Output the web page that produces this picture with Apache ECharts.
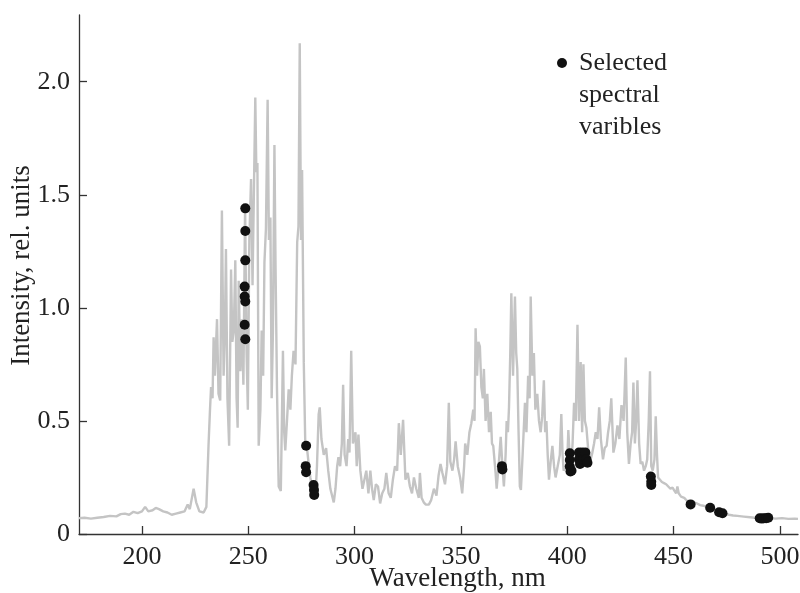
<!DOCTYPE html>
<html>
<head>
<meta charset="utf-8">
<script src="https://cdn.jsdelivr.net/npm/echarts@6/dist/echarts.min.js"></script>
<style>
  html, body { margin: 0; padding: 0; background: #fff; }
  #chart { width: 800px; height: 593px; }
</style>
</head>
<body>
<div id="chart"></div>
<script>
// spectrum, [wavelength nm, intensity]
const spectrum = [
  [170.4, 0.07], [173, 0.072], [176, 0.068], [179, 0.072], [182, 0.075], [185, 0.08], [188, 0.078],
  [190, 0.088], [192, 0.09], [194, 0.085], [196, 0.098], [198, 0.092], [200, 0.1], [201.5, 0.12],
  [203, 0.1], [205, 0.105], [206.5, 0.115], [208, 0.11], [210, 0.1], [212, 0.095], [214, 0.085],
  [216, 0.09], [218, 0.095], [220, 0.1], [221.5, 0.13], [222.5, 0.11], [224.3, 0.2], [225.5, 0.14],
  [227, 0.1], [229, 0.095], [230.3, 0.12], [231.3, 0.39], [232, 0.55], [232.5, 0.65], [233.2, 0.6],
  [233.7, 0.87], [234.3, 0.7], [235.3, 0.95], [236, 0.62], [236.8, 0.59], [237.6, 1.43], [238.4, 0.7],
  [239, 0.9], [239.5, 1.26], [240.2, 0.6], [241, 0.39], [241.9, 1.17], [242.5, 0.85], [243.2, 0.9],
  [243.9, 1.21], [244.5, 0.6], [245, 0.47], [245.5, 1.12], [246.3, 0.72], [247, 0.95], [247.7, 0.66],
  [248.5, 1.45], [249.2, 0.8], [249.8, 0.55], [250.5, 1.3], [251.3, 1.57], [252, 1.1], [252.7, 1.55],
  [253.3, 1.93], [253.8, 1.6], [254.3, 1.64], [254.9, 0.39], [255.7, 0.55], [256.3, 0.9], [257, 0.7],
  [257.6, 1.2], [258.3, 1.35], [259.1, 1.92], [259.7, 1.3], [260.4, 1.4], [261, 0.6], [261.6, 0.9],
  [262.3, 1.72], [262.8, 1.2], [263.5, 0.64], [264.3, 0.21], [265.3, 0.19], [266.3, 0.81], [266.9, 0.45],
  [267.4, 0.37], [268.2, 0.5], [269, 0.64], [269.8, 0.55], [270.5, 0.7], [271.3, 0.81], [272.2, 0.75],
  [273, 1.29], [273.6, 1.36], [274.2, 2.17], [274.8, 1.3], [275.3, 1.61], [276.1, 0.76], [276.8, 0.4],
  [277.5, 0.39], [278.4, 0.31], [279.2, 0.25], [280, 0.2], [280.8, 0.18], [281.6, 0.17], [282.3, 0.3],
  [283.1, 0.53], [283.6, 0.56], [284.4, 0.42], [285.5, 0.35], [286.6, 0.38], [287.6, 0.28], [288.6, 0.2],
  [290.2, 0.14], [291, 0.2], [291.8, 0.3], [292.4, 0.34], [293.2, 0.3], [294, 0.4], [294.6, 0.66],
  [295.3, 0.35], [296.2, 0.3], [297, 0.42], [297.6, 0.36], [298.4, 0.81], [299.2, 0.4], [300.4, 0.45],
  [301, 0.3], [301.8, 0.44], [302.7, 0.28], [303.7, 0.2], [304.6, 0.24], [305.5, 0.28], [306.5, 0.18],
  [307.4, 0.28], [308.2, 0.2], [309, 0.15], [310, 0.22], [311, 0.21], [312, 0.135], [313, 0.18],
  [314, 0.2], [314.9, 0.27], [316, 0.18], [317, 0.16], [318, 0.24], [319, 0.3], [320, 0.28],
  [320.8, 0.49], [321.7, 0.35], [322.8, 0.505], [323.9, 0.24], [325, 0.27], [326, 0.21], [327, 0.18],
  [327.9, 0.25], [329, 0.2], [330.2, 0.16], [330.7, 0.27], [331.5, 0.16], [332.5, 0.14], [333.5, 0.13],
  [334.9, 0.13], [336, 0.15], [337.3, 0.2], [338.5, 0.17], [339.5, 0.26], [340.4, 0.31], [341.3, 0.27],
  [342.5, 0.22], [343.5, 0.3], [344.3, 0.58], [345, 0.32], [346, 0.28], [346.8, 0.33], [347.5, 0.41],
  [348.5, 0.3], [349.6, 0.25], [350.6, 0.18], [351.5, 0.3], [352, 0.4], [353, 0.35], [354, 0.45],
  [354.9, 0.49], [355.8, 0.55], [356.4, 0.5], [356.9, 0.91], [357.6, 0.7], [358.2, 0.85], [358.9, 0.83],
  [359.6, 0.65], [360.3, 0.6], [360.8, 0.73], [361.6, 0.5], [362.4, 0.62], [363.2, 0.45], [364, 0.54],
  [364.6, 0.4], [365.2, 0.39], [366.3, 0.27], [366.8, 0.2], [367.7, 0.3], [368.7, 0.43], [369.5, 0.3],
  [370.2, 0.21], [371, 0.35], [371.5, 0.5], [372.1, 0.45], [372.6, 0.56], [373.2, 0.8], [373.7, 1.065],
  [374.5, 0.7], [375.4, 1.05], [376, 0.8], [376.5, 0.73], [377.1, 0.45], [377.7, 0.21], [378.2, 0.195],
  [379, 0.35], [380.1, 0.58], [380.8, 0.45], [381.6, 0.7], [382.3, 0.6], [382.8, 1.05], [383.6, 0.7],
  [384.3, 0.8], [385, 0.55], [385.9, 0.62], [386.7, 0.5], [387.5, 0.45], [388.2, 0.52], [389, 0.68],
  [389.6, 0.45], [390.2, 0.5], [390.8, 0.35], [391.4, 0.24], [392.2, 0.32], [393, 0.39], [393.8, 0.3],
  [394.5, 0.25], [395.5, 0.3], [396.5, 0.35], [397.2, 0.53], [397.8, 0.35], [398.3, 0.28], [399.2, 0.3],
  [400, 0.32], [400.5, 0.46], [401.2, 0.33], [401.8, 0.3], [402.5, 0.4], [403.2, 0.58], [404, 0.5],
  [404.8, 0.925], [405.5, 0.5], [406.3, 0.76], [407, 0.45], [407.6, 0.75], [408.3, 0.5], [409, 0.47],
  [409.8, 0.38], [410.5, 0.35], [411, 0.33], [411.8, 0.36], [412.6, 0.4], [413.4, 0.45], [414.2, 0.42],
  [415, 0.56], [415.8, 0.42], [416.8, 0.33], [417.6, 0.38], [418.5, 0.39], [419.2, 0.45], [420, 0.5],
  [420.7, 0.6], [421.7, 0.36], [422.6, 0.4], [423.6, 0.48], [424.5, 0.42], [425.5, 0.57], [426.5, 0.5],
  [427.5, 0.78], [428.2, 0.45], [429, 0.31], [429.8, 0.4], [430.5, 0.45], [431.1, 0.67], [431.8, 0.4],
  [432.4, 0.5], [433, 0.68], [433.8, 0.4], [434.5, 0.31], [435.3, 0.32], [436.1, 0.28], [436.9, 0.3],
  [437.6, 0.33], [438.3, 0.5], [438.9, 0.72], [439.5, 0.3], [440.2, 0.28], [441, 0.33], [441.6, 0.52],
  [442.2, 0.35], [442.7, 0.25], [443.5, 0.25], [444.5, 0.23], [445.5, 0.225], [446.5, 0.22], [447.5, 0.21],
  [448.5, 0.2], [449.5, 0.205], [450.5, 0.19], [451.2, 0.18], [451.8, 0.21], [452.4, 0.18], [453.5, 0.165],
  [455, 0.16], [456.5, 0.145], [458, 0.135], [459.5, 0.14], [461, 0.135], [462.5, 0.128], [464, 0.125],
  [465.5, 0.12], [467.5, 0.118], [469.5, 0.108], [471, 0.1], [472.5, 0.094], [474, 0.09], [476, 0.085],
  [478, 0.082], [480, 0.08], [483, 0.077], [486, 0.074], [489, 0.071], [492, 0.069], [495, 0.07],
  [498, 0.068], [501, 0.07], [504, 0.067], [507, 0.068], [508.5, 0.067]
]

// selected spectral variables
const selected = [
  [248.6, 1.44], [248.6, 1.34], [248.6, 1.21], [248.3, 1.094], [248.3, 1.05], [248.6, 1.028],
  [248.3, 0.925], [248.6, 0.861],
  [277.2, 0.39], [277.0, 0.3], [277.2, 0.273], [280.7, 0.217], [280.9, 0.195], [281.0, 0.173],
  [369.3, 0.3], [369.5, 0.285],
  [401.2, 0.357], [401.2, 0.327], [401.2, 0.298], [401.5, 0.276], [402.0, 0.28],
  [405.5, 0.36], [405.5, 0.33], [406.0, 0.31], [407.0, 0.36], [407.5, 0.33], [408.5, 0.36],
  [409.0, 0.33], [409.5, 0.315],
  [439.3, 0.254], [439.5, 0.231], [439.5, 0.217],
  [458.0, 0.131], [467.2, 0.116], [471.4, 0.096], [473.0, 0.092],
  [490.5, 0.07], [491.5, 0.068], [492.5, 0.07], [493.5, 0.07], [494.5, 0.072]
]

const xTicks = [200, 250, 300, 350, 400, 450, 500]
const yTicks = [0, 0.5, 1.0, 1.5, 2.0]

const font = '"Liberation Serif", "DejaVu Serif", serif'
const ink = '#222'

const chart = echarts.init(document.getElementById('chart'))

chart.setOption({
  animation: false,
  grid: { left: 79, right: 2, top: 15, bottom: 59, outerBoundsMode: 'none', containLabel: false },
  legend: {
    data: ['Selected spectral varibles'],
    left: 552,
    top: -22,
    icon: 'circle',
    itemWidth: 24,
    itemHeight: 10,
    // two blank lines on top keep the dot level with the first line
    formatter: () => '\n\nSelected\nspectral\nvaribles',
    textStyle: { fontFamily: font, fontSize: 26, lineHeight: 32, color: ink }
  },
  xAxis: {
    type: 'value',
    min: 170.4,
    max: 508.5,
    name: 'Wavelength, nm',
    nameLocation: 'middle',
    nameGap: 31,
    nameMoveOverlap: false,
    nameTextStyle: { fontFamily: font, fontSize: 27, color: ink, padding: [0, 0, 0, 38] },
    axisLine: { lineStyle: { color: '#333', width: 1.3 } },
    axisTick: { inside: true, length: 8, customValues: xTicks, lineStyle: { color: '#333', width: 1.3 } },
    axisLabel: { customValues: xTicks, margin: 10, fontFamily: font, fontSize: 26, color: ink },
    splitLine: { show: false }
  },
  yAxis: {
    type: 'value',
    min: 0,
    max: 2.295,
    name: 'Intensity, rel. units',
    nameLocation: 'middle',
    nameGap: 44,
    nameMoveOverlap: false,
    nameTextStyle: { fontFamily: font, fontSize: 27, color: ink, padding: [0, 0, 0, 18] },
    axisLine: { show: true, lineStyle: { color: '#333', width: 1.3 } },
    axisTick: { show: true, inside: true, length: 8, customValues: yTicks, lineStyle: { color: '#333', width: 1.3 } },
    axisLabel: {
      customValues: yTicks,
      margin: 9,
      fontFamily: font,
      fontSize: 26,
      color: ink,
      formatter: v => (v === 0 ? '0' : v.toFixed(1))
    },
    splitLine: { show: false }
  },
  series: [
    {
      name: 'Spectrum',
      type: 'line',
      data: spectrum,
      showSymbol: false,
      lineStyle: { color: '#c4c4c4', width: 2.4 },
      z: 1
    },
    {
      name: 'Selected spectral varibles',
      type: 'scatter',
      data: selected,
      symbol: 'circle',
      symbolSize: 10,
      itemStyle: { color: '#111', opacity: 1 },
      z: 3
    }
  ]
})
</script>
</body>
</html>
